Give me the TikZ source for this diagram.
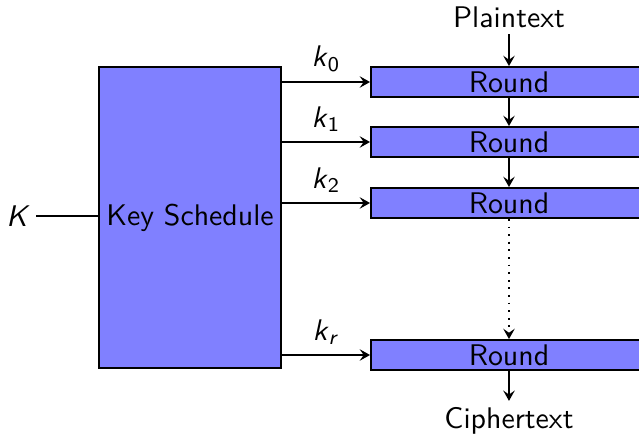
\documentclass[tikz,border=0pt]{standalone}
\usepackage{amsmath}
\usetikzlibrary{arrows.meta}
\begin{document}
\begin{tikzpicture}[x=0.3485pt,y=-0.3485pt, font=\sffamily\fontsize{10.4}{12}\selectfont,
  every path/.style={line width=0.65pt},
  arr/.style={-{Stealth[length=3.6pt, width=4pt, inset=1.4pt]}},
  box/.style={draw, fill=blue!50, inner sep=0pt},
  roundbox/.style={box, minimum width=96.2pt, minimum height=10.45pt},
  lbl/.style={inner sep=2pt}]
\useasboundingbox (0,0) rectangle (639,435);
\node[box, minimum width=63.4pt, minimum height=104.9pt] (ks) at (190,217.5) {Key Schedule};
\node[roundbox] (r1) at (509,82) {Round};
\node[roundbox] (r2) at (509,142) {Round};
\node[roundbox] (r3) at (509,203) {Round};
\node[roundbox] (r4) at (509,355) {Round};
\node[lbl] (K) at (18,216) {$\textsf{\textit{K}}$};
\node[lbl] (pt) at (509,17) {Plaintext};
\node[lbl] (ct) at (509,421) {Ciphertext};
\draw (K) -- (K -| ks.west);
\draw[arr] (ks.east |- r1) -- node[midway, above] {$\textsf{\textit{k}}_{\textsf{0}}$} (r1.west);
\draw[arr] (ks.east |- r2) -- node[midway, above] {$\textsf{\textit{k}}_{\textsf{1}}$} (r2.west);
\draw[arr] (ks.east |- r3) -- node[midway, above] {$\textsf{\textit{k}}_{\textsf{2}}$} (r3.west);
\draw[arr] (ks.east |- r4) -- node[midway, above] {$\textsf{\textit{k}}_{\textsf{\textit{r}}}$} (r4.west);
\draw[arr] (pt) -- (r1);
\draw[arr] (r1) -- (r2);
\draw[arr] (r2) -- (r3);
\draw[arr, dotted] (r3) -- (r4);
\draw[arr] (r4) -- (ct);
\end{tikzpicture}
\end{document}
